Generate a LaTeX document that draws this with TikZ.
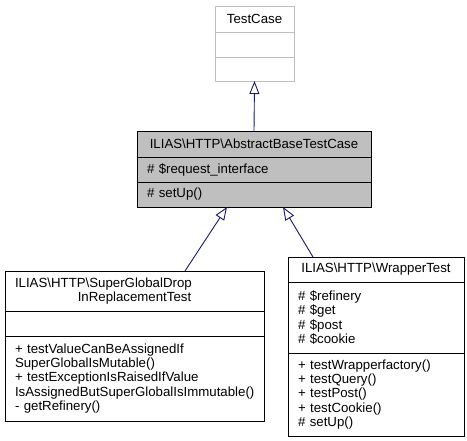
\documentclass[tikz,border=0pt]{standalone}
\usepackage{fontspec}
\setmainfont{Liberation Sans}
\usetikzlibrary{arrows.meta}
\definecolor{edgeblue}{RGB}{25,25,112}
\definecolor{absfill}{RGB}{191,191,191}
\definecolor{tcgrey}{RGB}{191,191,191}
\tikzset{
  cpt/.style={draw, line width=0.9bp, outer sep=0pt, inner sep=0pt, anchor=north west,
    font=\fontsize{13.3}{14.3}\selectfont},
  lcpt/.style={cpt, align=left},
  inh/.style={draw=edgeblue, line width=0.9bp, -{Triangle[open, length=13bp, width=10bp, line width=0.9bp]}},
}
\begin{document}
\begin{tikzpicture}[x=1bp, y=-1bp]
\useasboundingbox (0,0) rectangle (467,441);
% TestCase
\node[cpt, draw=tcgrey, minimum width=79bp, minimum height=26bp] (tc1) at (215,6) {TestCase};
\node[cpt, draw=tcgrey, minimum width=79bp, minimum height=25bp] (tc2) at (215,32) {};
\node[cpt, draw=tcgrey, minimum width=79bp, minimum height=24bp] (tc3) at (215,57) {};
% AbstractBaseTestCase
\node[cpt, fill=absfill, minimum width=234bp, minimum height=26bp] (ab1) at (137,131) {ILIAS\textbackslash HTTP\textbackslash AbstractBaseTestCase};
\node[lcpt, fill=absfill, minimum width=234bp, text width=214bp, minimum height=25bp] (ab2) at (137,157) {\# \$request\_interface};
\node[lcpt, fill=absfill, minimum width=234bp, text width=214bp, minimum height=25bp] (ab3) at (137,182) {\# setUp()};
% SuperGlobalDropInReplacementTest
\node[cpt, align=center, minimum width=259bp, text width=239bp, minimum height=40bp] (sg1) at (5,271)
  {\makebox[239bp][l]{ILIAS\textbackslash HTTP\textbackslash SuperGlobalDrop}\\InReplacementTest};
\node[cpt, minimum width=259bp, minimum height=25bp] (sg2) at (5,311) {};
\node[lcpt, minimum width=259bp, text width=239bp, minimum height=85bp] (sg3) at (5,336)
  {+ testValueCanBeAssignedIf\\SuperGlobalIsMutable()\\+ testExceptionIsRaisedIfValue\\IsAssignedButSuperGlobalIsImmutable()\\- getRefinery()};
% WrapperTest
\node[cpt, minimum width=176bp, minimum height=25bp] (wt1) at (288,257) {ILIAS\textbackslash HTTP\textbackslash WrapperTest};
\node[lcpt, minimum width=176bp, text width=156bp, minimum height=71bp] (wt2) at (288,282)
  {\# \$refinery\\\# \$get\\\# \$post\\\# \$cookie};
\node[lcpt, minimum width=176bp, text width=156bp, minimum height=83bp] (wt3) at (288,353)
  {+ testWrapperfactory()\\+ testQuery()\\+ testPost()\\+ testCookie()\\\# setUp()};
% connectors
\coordinate (sgtop) at (185,271);
\coordinate (absl) at (227,207);
\coordinate (wttop) at (313,257);
\coordinate (absr) at (283,207);
\draw[inh] (ab1.north) -- (tc3.south);
\draw[inh] (sgtop) -- (absl);
\draw[inh] (wttop) -- (absr);
\end{tikzpicture}
\end{document}
